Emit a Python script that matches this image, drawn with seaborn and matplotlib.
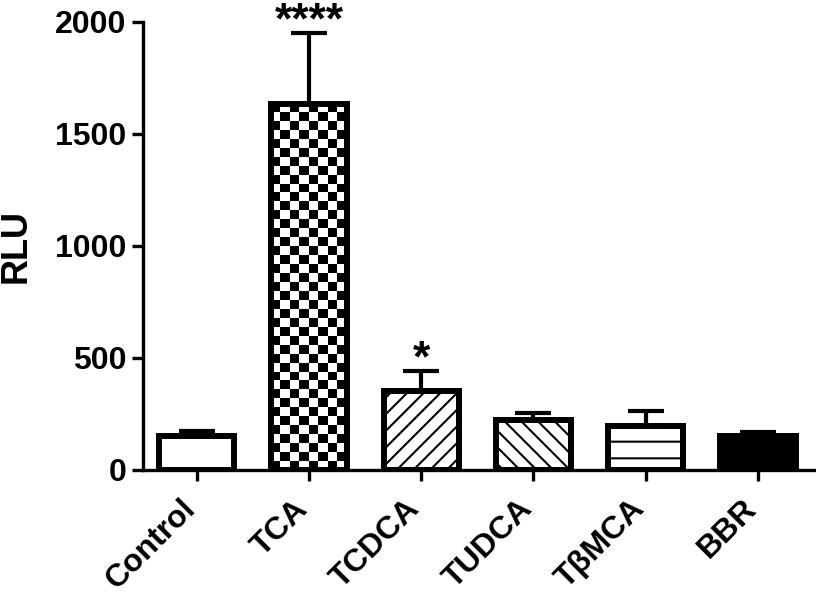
import numpy as np
import matplotlib
matplotlib.use("Agg")
import matplotlib.pyplot as plt
import matplotlib.transforms as mtransforms
import seaborn as sns

# values (RLU, mean and upper SEM)
groups = ["Control", "TCA", "TCDCA", "TUDCA", "TβMCA", "BBR"]
means = [151, 1635, 352, 222, 198, 150]
errors = [25, 316, 88, 34, 66, 20]
stars = ["", "****", "*", "", "", ""]
y_ticks = [0, 500, 1000, 1500, 2000]

sns.set_style("ticks")
plt.rcParams["font.family"] = ["Liberation Sans", "DejaVu Sans"]
plt.rcParams["hatch.linewidth"] = 1.5
plt.rcParams["hatch.color"] = "black"
for key in ["text.color", "axes.labelcolor", "xtick.color", "ytick.color", "axes.edgecolor"]:
    plt.rcParams[key] = "black"

fig, ax = plt.subplots(figsize=(8.16, 5.99), dpi=100)
fig.subplots_adjust(left=0.175, right=0.999, bottom=0.2154, top=0.9633)

sns.barplot(x=groups, y=means, color="white", edgecolor="black",
            linewidth=4.3, width=0.67, saturation=1, ax=ax, errorbar=None)

patches = ax.patches
hatches = [None, None, "//", "\\\\", "-", None]
for p, h in zip(patches, hatches):
    p.set_facecolor("white")
    p.set_edgecolor("black")
    if h:
        p.set_hatch(h)
patches[-1].set_facecolor("black")

ax.set_xlim(-0.48, 5.51)
ax.set_ylim(0, 2000)

# checkerboard fill for TCA, squares ~9 px
p = patches[1]
px_x = ax.bbox.width / (5.51 + 0.48)
px_y = ax.bbox.height / 2000
ncol = max(1, int(round(p.get_width() * px_x / 9)))
nrow = max(1, int(round(p.get_height() * px_y / 9)))
board = (np.indices((nrow, ncol)).sum(axis=0) % 2).astype(float)
im = ax.imshow(board, cmap="gray", interpolation="nearest", aspect="auto",
               extent=(p.get_x(), p.get_x() + p.get_width(), 0, p.get_height()),
               zorder=1.5)
im.set_clip_path(p)
p.set_facecolor("none")
p.set_zorder(2)
ax.set_xlim(-0.48, 5.51)
ax.set_ylim(0, 2000)

xs = [q.get_x() + q.get_width() / 2 for q in patches]
ax.errorbar(xs, means, yerr=[np.zeros(len(errors)), errors], fmt="none",
            ecolor="black", elinewidth=3, capsize=13, capthick=3, zorder=1)

for x, m, e, s in zip(xs, means, errors, stars):
    if s:
        ax.text(x, m + e, s, ha="center", va="baseline", fontsize=32,
                fontweight="bold", clip_on=False)

ax.set_yticks(y_ticks)
ax.set_ylabel("RLU", fontsize=26, fontweight="bold")
ax.yaxis.set_label_coords(-0.162, 0.5)
ax.set_xlabel("")
for lab in ax.get_yticklabels():
    lab.set_fontsize(23)
    lab.set_fontweight("bold")
ax.set_xticks(xs)
ax.set_xticklabels(groups, rotation=45, ha="right", va="baseline",
                   rotation_mode="anchor", fontsize=23, fontweight="bold")
shift = mtransforms.ScaledTranslation(11 / 100, 0, fig.dpi_scale_trans)
for lab in ax.get_xticklabels():
    lab.set_transform(lab.get_transform() + shift)

sns.despine(ax=ax)
for side in ["left", "bottom"]:
    ax.spines[side].set_linewidth(2.4)
ax.tick_params(axis="both", width=2.4, length=8, color="black")
ax.tick_params(axis="y", pad=4)
ax.tick_params(axis="x", pad=21)

fig.savefig("out.png", dpi=100)
